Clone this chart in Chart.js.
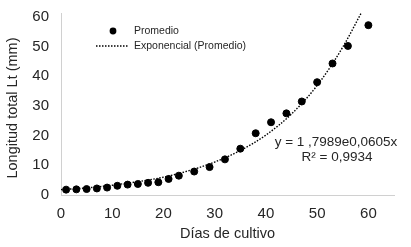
<!DOCTYPE html>
<html>
<head>
<meta charset="utf-8">
<script src="https://cdn.jsdelivr.net/npm/chart.js@4.4.0/dist/chart.umd.min.js"></script>
<style>
  html, body { margin: 0; padding: 0; background: #fff; }
  #wrap { width: 411px; height: 247px; }
</style>
</head>
<body>
<div id="wrap"><canvas id="chart" width="411" height="247"></canvas></div>
<script>
// measured averages (days, mm)
const dias = [1, 3, 5, 7, 9, 11, 13, 15, 17, 19, 21, 23, 26, 29, 32, 35, 38, 41, 44, 47, 50, 53, 56, 60];
const promedio = [1.8, 1.9, 2.0, 2.2, 2.5, 3.1, 3.5, 3.7, 4.1, 4.3, 5.4, 6.5, 7.9, 9.4, 12.0, 15.6, 20.8, 24.5, 27.5, 31.5, 38.0, 44.3, 50.2, 57.2];

// trend line
const trendX = [0, 5, 10, 15, 20, 25, 30, 35, 40, 45, 50, 55, 58.6];
const trendY = [1.8, 2.4, 3.3, 4.5, 6.0, 8.2, 11.1, 15.0, 20.2, 27.3, 36.9, 49.8, 61.3];

const xTicks = [0, 10, 20, 30, 40, 50, 60];
const yTicks = [0, 10, 20, 30, 40, 50, 60];

const yTitle = 'Longitud total Lt (mm)';
const ecuacion = 'y = 1 ,7989e0,0605x';
const r2 = 'R² = 0,9934';

const textColor = '#262626';
const fontFamily = '"Liberation Sans", Arial, sans-serif';

const overlay = {
  id: 'overlay',
  afterDraw(chart) {
    const ctx = chart.ctx;
    ctx.save();
    // legend
    ctx.fillStyle = '#000';
    ctx.beginPath();
    ctx.arc(113, 31, 3.4, 0, Math.PI * 2);
    ctx.fill();
    ctx.strokeStyle = '#000';
    ctx.lineWidth = 1.3;
    ctx.setLineDash([1.5, 1.5]);
    ctx.beginPath();
    ctx.moveTo(96, 46);
    ctx.lineTo(128, 46);
    ctx.stroke();
    ctx.setLineDash([]);
    ctx.font = '10.5px ' + fontFamily;
    ctx.fillStyle = textColor;
    ctx.textBaseline = 'middle';
    ctx.textAlign = 'left';
    ctx.fillText('Promedio', 134, 31);
    ctx.fillText('Exponencial (Promedio)', 134, 46);
    // equation
    ctx.font = '13.5px ' + fontFamily;
    ctx.textAlign = 'center';
    ctx.fillText(ecuacion, 336, 142);
    ctx.fillText(r2, 337, 157);
    // y axis title
    ctx.translate(13, 108);
    ctx.rotate(-Math.PI / 2);
    ctx.font = '14.5px ' + fontFamily;
    ctx.fillText(yTitle, 0, 0);
    ctx.restore();
  }
};

new Chart(document.getElementById('chart'), {
  type: 'scatter',
  data: {
    datasets: [
      {
        label: 'Exponencial (Promedio)',
        data: trendX.map((x, i) => ({ x: x, y: trendY[i] })),
        showLine: true,
        borderColor: '#000',
        borderWidth: 1.4,
        borderDash: [1.5, 1.5],
        pointRadius: 0,
        cubicInterpolationMode: 'monotone',
        order: 2
      },
      {
        label: 'Promedio',
        data: dias.map((x, i) => ({ x: x, y: promedio[i] })),
        backgroundColor: '#000',
        borderColor: '#000',
        pointRadius: 3.5,
        order: 1
      }
    ]
  },
  options: {
    responsive: false,
    animation: false,
    layout: { padding: { top: 13, right: 17, left: 0, bottom: 0 } },
    plugins: {
      legend: { display: false },
      tooltip: { enabled: false }
    },
    scales: {
      x: {
        type: 'linear',
        min: 0,
        max: 65,
        afterBuildTicks: s => { s.ticks = xTicks.map(v => ({ value: v })); },
        afterFit: s => { s.height = 52; s.paddingLeft = 0; s.paddingRight = 0; },
        grid: { display: false, drawTicks: false },
        border: { display: true, color: '#d0d0d0', width: 1 },
        ticks: { color: textColor, font: { family: fontFamily, size: 15 }, padding: 10 },
        title: {
          display: true,
          text: 'Días de cultivo',
          color: textColor,
          font: { family: fontFamily, size: 14.5 },
          padding: { top: 0, bottom: 4 }
        }
      },
      y: {
        min: 0,
        max: 61.3,
        afterBuildTicks: s => { s.ticks = yTicks.map(v => ({ value: v })); },
        afterFit: s => { s.width = 61; s.paddingTop = 0; s.paddingBottom = 0; },
        grid: { display: false, drawTicks: false },
        border: { display: true, color: '#d0d0d0', width: 1 },
        ticks: { color: textColor, font: { family: fontFamily, size: 15 }, padding: 12 }
      }
    }
  },
  plugins: [overlay]
});
</script>
</body>
</html>
